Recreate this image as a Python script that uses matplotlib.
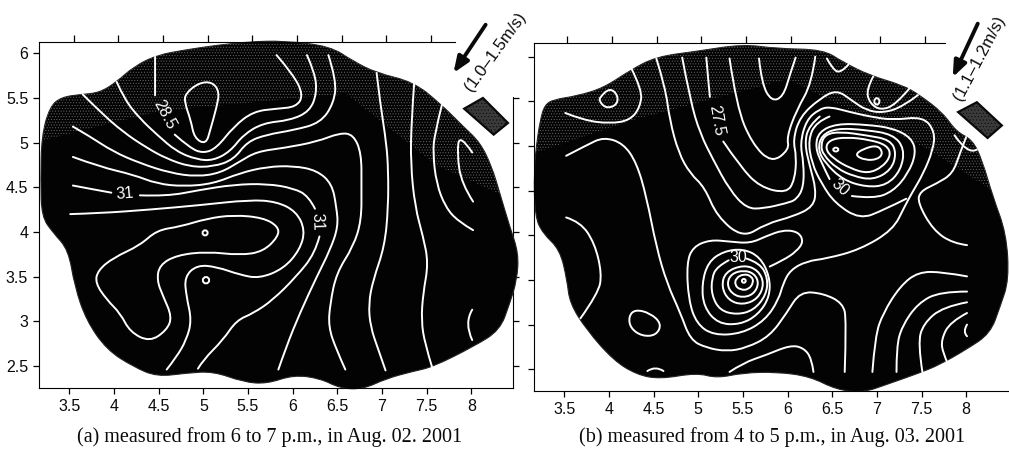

# -*- coding: utf-8 -*-
"""Two temperature contour maps of an island, with wind arrows."""

import numpy as np
import matplotlib
matplotlib.use("Agg")
import matplotlib.pyplot as plt
from matplotlib.path import Path
from matplotlib.patches import PathPatch, Polygon

plt.rcParams['font.family'] = ['Liberation Sans', 'DejaVu Sans']
plt.rcParams['hatch.linewidth'] = 0.4

x_ticks = [3.5, 4, 4.5, 5, 5.5, 6, 6.5, 7, 7.5, 8]
x_labels = ['3.5', '4', '4.5', '5', '5.5', '6', '6.5', '7', '7.5', '8']
y_ticks = [2.5, 3, 3.5, 4, 4.5, 5, 5.5, 6]
y_labels = ['2.5', '3', '3.5', '4', '4.5', '5', '5.5', '6']

# ---- panel (a) ----
a_island = [(3.28, 5.40), (3.41, 5.51), (3.64, 5.54), (3.84, 5.56), (4.03, 5.68), (4.22, 5.85), (4.48, 5.98),
            (4.81, 6.04), (5.15, 6.09), (5.52, 6.13), (5.90, 6.14), (6.42, 6.08), (6.68, 5.91), (6.94, 5.78),
            (7.35, 5.68), (7.65, 5.44), (7.91, 5.18), (8.10, 5.00), (8.23, 4.73), (8.32, 4.43), (8.43, 4.06),
            (8.53, 3.76), (8.51, 3.46), (8.43, 3.20), (8.32, 2.90), (8.03, 2.72), (7.57, 2.49), (7.35, 2.44),
            (7.05, 2.36), (6.79, 2.24), (6.53, 2.25), (6.31, 2.36), (6.01, 2.40), (5.71, 2.30), (5.45, 2.32),
            (5.11, 2.44), (4.81, 2.42), (4.48, 2.38), (4.22, 2.49), (3.92, 2.68), (3.69, 3.01), (3.56, 3.39),
            (3.49, 3.80), (3.32, 3.99), (3.19, 4.17), (3.18, 4.58), (3.19, 5.07)]
a_building = [(7.92, 5.38), (8.13, 5.50), (8.41, 5.22), (8.25, 5.09)]
a_stipple = [(3.1, 5.0), (4.5, 5.35), (6.6, 5.55), (7.6, 4.75), (8.6, 4.3), (8.6, 6.3), (3.1, 6.3)]

a_open = [
    [(4.46, 5.96), (4.46, 5.75), (4.46, 5.53)],
    [(4.68, 5.09), (4.85, 4.94), (5.00, 4.88), (5.15, 4.94), (5.34, 5.18), (5.56, 5.35), (5.82, 5.38), (6.04, 5.40),
     (6.12, 5.53), (6.01, 5.76), (5.82, 5.98)],
    [(4.03, 5.68), (4.12, 5.48), (4.29, 5.27), (4.48, 5.09), (4.70, 4.90), (4.93, 4.81), (5.11, 4.80), (5.30, 4.90),
     (5.45, 5.09), (5.67, 5.22), (5.97, 5.25), (6.19, 5.35), (6.27, 5.55), (6.25, 5.78), (6.16, 5.98)],
    [(3.65, 5.54), (3.84, 5.35), (4.10, 5.12), (4.37, 4.94), (4.59, 4.82), (4.85, 4.73), (5.11, 4.73), (5.34, 4.81),
     (5.49, 5.01), (5.71, 5.09), (6.01, 5.14), (6.31, 5.22), (6.46, 5.44), (6.49, 5.70), (6.40, 5.98)],
    [(3.54, 5.18), (3.73, 5.07), (3.99, 4.90), (4.29, 4.77), (4.63, 4.66), (4.93, 4.62), (5.19, 4.66), (5.41, 4.79),
     (5.60, 4.90), (5.90, 4.94), (6.27, 5.01), (6.53, 5.11), (6.68, 5.09), (6.77, 4.88), (6.77, 4.51), (6.77, 4.13),
     (6.68, 3.84), (6.49, 3.54), (6.42, 3.20), (6.40, 2.94), (6.49, 2.68), (6.59, 2.46)],
    [(3.54, 4.84), (3.84, 4.73), (4.22, 4.64), (4.48, 4.54), (4.78, 4.51), (5.11, 4.54), (5.41, 4.66), (5.71, 4.73),
     (6.01, 4.74), (6.27, 4.69), (6.44, 4.54), (6.49, 4.28), (6.51, 4.06), (6.42, 3.80), (6.27, 3.50), (6.08, 3.09),
     (5.93, 2.72), (5.84, 2.46)],
    [(3.54, 4.52), (3.75, 4.48), (3.97, 4.44)],
    [(4.29, 4.41), (4.59, 4.40), (4.96, 4.47), (5.34, 4.53), (5.71, 4.54), (6.01, 4.49), (6.18, 4.40), (6.25, 4.26)],
    [(6.30, 3.95), (6.25, 3.76), (6.04, 3.50), (5.78, 3.24), (5.56, 3.09), (5.37, 3.01), (5.22, 2.79), (5.00, 2.57),
     (4.94, 2.47)],
    [(3.51, 4.20), (3.84, 4.21), (4.40, 4.25), (4.96, 4.30), (5.52, 4.36), (5.82, 4.34), (6.04, 4.23), (6.14, 4.02),
     (6.08, 3.80), (5.90, 3.59), (5.63, 3.48), (5.41, 3.52), (5.15, 3.61), (4.93, 3.63), (4.79, 3.50), (4.81, 3.28),
     (4.87, 3.01), (4.81, 2.79), (4.70, 2.60), (4.59, 2.46)],
    [(6.94, 5.78), (6.98, 5.44), (7.05, 4.99), (7.07, 4.69), (7.07, 4.28), (7.03, 3.84), (6.90, 3.46), (6.85, 3.20),
     (6.87, 2.94), (6.96, 2.68), (7.04, 2.45)],
    [(7.36, 5.66), (7.33, 5.25), (7.32, 4.77), (7.37, 4.28), (7.46, 3.95), (7.52, 3.65), (7.46, 3.31), (7.44, 3.01),
     (7.48, 2.75), (7.56, 2.49)],
    [(7.67, 5.42), (7.59, 5.10), (7.57, 4.88), (7.61, 4.54), (7.71, 4.28), (7.85, 4.12), (8.02, 4.02)],
    [(8.01, 4.89), (7.87, 5.10), (7.84, 4.88), (7.89, 4.54), (8.02, 4.34)],
    [(8.01, 3.13), (7.92, 2.98), (8.01, 2.79)],
]
a_closed = [
    [(4.90, 5.05), (4.86, 5.25), (4.79, 5.45), (4.80, 5.55), (4.95, 5.67), (5.10, 5.68), (5.18, 5.57), (5.15, 5.40),
     (5.08, 5.15), (5.03, 4.98)],
    [(5.84, 4.06), (5.67, 4.16), (5.34, 4.19), (5.04, 4.15), (4.74, 4.06), (4.48, 4.02), (4.29, 3.85), (3.99, 3.71),
     (3.82, 3.57), (3.79, 3.43), (3.92, 3.24), (4.07, 3.09), (4.18, 2.88), (4.40, 2.77), (4.59, 2.90), (4.65, 3.05),
     (4.55, 3.28), (4.48, 3.46), (4.51, 3.63), (4.70, 3.74), (5.04, 3.78), (5.41, 3.74), (5.67, 3.78), (5.84, 3.95)],
    [(5.02, 4.03), (5.06, 3.99), (5.02, 3.95), (4.98, 3.99)],
    [(5.03, 3.51), (5.08, 3.46), (5.03, 3.41), (4.98, 3.46)],
]
a_labels = [('28.5', 4.57, 5.31, -62), ('31', 4.12, 4.43, 5), ('31', 6.27, 4.12, -88)]

# ---- panel (b) ----
b_island = [(3.23, 5.29), (3.28, 5.46), (3.38, 5.52), (3.64, 5.56), (3.94, 5.65), (4.24, 5.85), (4.53, 6.00),
            (4.98, 6.06), (5.50, 6.14), (5.88, 6.09), (6.40, 6.08), (6.62, 5.94), (6.92, 5.79), (7.29, 5.68),
            (7.48, 5.57), (7.74, 5.37), (7.89, 5.16), (8.07, 5.07), (8.18, 4.84), (8.30, 4.43), (8.45, 4.02),
            (8.48, 3.50), (8.38, 3.20), (8.27, 2.90), (8.00, 2.72), (7.70, 2.55), (7.48, 2.46), (7.11, 2.33),
            (6.85, 2.24), (6.55, 2.27), (6.25, 2.42), (5.88, 2.47), (5.50, 2.46), (5.21, 2.40), (4.98, 2.46),
            (4.57, 2.39), (4.31, 2.44), (4.05, 2.60), (3.75, 2.94), (3.56, 3.24), (3.53, 3.50), (3.45, 3.84),
            (3.26, 4.02), (3.17, 4.21), (3.16, 4.73), (3.19, 5.03)]
b_building = [(7.91, 5.38), (8.12, 5.49), (8.40, 5.23), (8.24, 5.09)]
b_stipple = [(3.1, 4.9), (4.3, 5.3), (6.0, 5.75), (7.6, 4.95), (8.6, 4.3), (8.6, 6.3), (3.1, 6.3)]

b_open = [
    [(3.51, 5.37), (3.71, 5.29), (4.01, 5.25), (4.24, 5.29), (4.35, 5.44), (4.37, 5.63), (4.25, 5.87)],
    [(3.52, 4.89), (3.75, 5.01), (3.94, 5.10), (4.16, 5.03), (4.31, 4.81), (4.42, 4.43), (4.53, 3.87), (4.65, 3.46),
     (4.80, 3.13), (4.91, 2.83), (5.09, 2.74), (5.32, 2.70), (5.54, 2.74), (5.80, 2.87), (5.99, 3.13), (6.14, 3.37),
     (6.40, 3.35), (6.62, 3.24), (6.66, 3.05), (6.64, 2.47)],
    [(3.52, 4.20), (3.68, 4.15), (3.84, 3.91), (3.92, 3.57), (3.88, 3.35), (3.68, 3.07)],
    [(4.43, 2.48), (4.52, 2.54), (4.61, 2.48)],
    [(5.35, 2.47), (5.50, 2.57), (5.76, 2.66), (6.03, 2.77), (6.18, 2.74), (6.27, 2.62), (6.29, 2.47)],
    [(6.31, 6.00), (6.27, 5.70), (6.10, 5.40), (5.99, 5.10), (6.02, 4.96), (5.82, 4.81), (5.60, 5.03), (5.43, 5.44),
     (5.35, 5.98)],
    [(5.68, 5.98), (5.71, 5.70), (5.82, 5.50), (5.95, 5.55), (6.03, 5.81), (6.09, 5.99)],
    [(5.09, 5.99), (5.11, 5.75), (5.13, 5.55)],
    [(5.28, 5.05), (5.47, 4.77), (5.69, 4.54), (5.99, 4.47), (6.08, 4.62), (6.10, 4.88), (6.06, 5.07), (6.14, 5.33),
     (6.36, 5.53), (6.55, 5.63), (6.72, 5.51), (6.88, 5.40), (7.07, 5.37), (7.29, 5.44), (7.46, 5.57)],
    [(4.82, 5.99), (4.91, 5.51), (5.02, 5.14), (5.17, 4.84), (5.35, 4.51), (5.54, 4.30), (5.73, 4.30), (5.99, 4.36),
     (6.10, 4.40), (6.18, 4.54), (6.18, 4.81), (6.14, 5.03), (6.21, 5.29), (6.35, 5.41), (6.47, 5.44), (6.70, 5.38),
     (6.92, 5.33), (7.18, 5.29), (7.52, 5.33), (7.65, 5.16), (7.63, 4.96), (7.52, 4.69), (7.39, 4.47), (7.31, 4.32),
     (7.18, 4.06), (6.81, 3.84), (6.44, 3.74), (6.21, 3.71), (6.03, 3.61), (5.95, 3.46), (5.90, 3.28), (5.75, 3.05),
     (5.49, 2.90), (5.17, 2.88), (4.98, 3.01), (4.89, 3.28), (4.87, 3.69), (4.94, 3.87), (5.13, 3.95), (5.35, 3.93),
     (5.58, 3.91), (5.76, 3.99), (5.95, 4.06), (6.12, 4.04), (6.18, 3.93), (6.10, 3.82), (5.95, 3.72), (5.80, 3.65)],
    [(4.53, 5.98), (4.63, 5.66), (4.68, 5.29), (4.78, 4.92), (4.91, 4.69), (5.07, 4.54), (5.21, 4.21), (5.50, 3.97),
     (5.76, 4.13), (6.06, 4.21), (6.29, 4.32), (6.32, 4.51), (6.25, 4.77), (6.19, 5.03), (6.24, 5.23), (6.36, 5.33)],
    [(7.33, 4.41), (7.07, 4.28), (6.81, 4.18), (6.53, 4.36), (6.38, 4.58), (6.27, 4.81), (6.23, 5.07), (6.32, 5.27),
     (6.47, 5.33)],
    [(6.47, 4.63), (6.38, 4.81), (6.31, 4.99), (6.35, 5.16), (6.55, 5.25), (6.88, 5.24), (7.18, 5.20), (7.39, 5.09),
     (7.44, 4.92), (7.35, 4.69), (7.18, 4.49), (6.96, 4.41), (6.72, 4.44)],
    [(5.54, 3.74), (5.69, 3.69), (5.78, 3.52), (5.76, 3.33), (5.62, 3.16), (5.43, 3.11), (5.24, 3.16), (5.15, 3.33),
     (5.15, 3.52), (5.21, 3.65), (5.34, 3.72)],
    [(6.96, 5.78), (6.88, 5.63), (6.92, 5.48), (7.04, 5.40), (7.21, 5.46), (7.37, 5.65)],
    [(6.44, 5.98), (6.50, 5.87), (6.59, 5.81), (6.68, 5.91)],
    [(7.87, 5.12), (8.02, 4.90), (8.12, 4.96)],
    [(8.00, 5.10), (7.93, 4.92), (7.85, 4.69), (7.67, 4.58), (7.48, 4.49), (7.46, 4.36), (7.63, 4.06), (7.85, 3.91),
     (8.01, 3.89)],
    [(8.01, 3.54), (7.74, 3.59), (7.46, 3.59), (7.26, 3.43), (7.07, 3.13), (6.98, 2.87), (6.95, 2.47)],
    [(8.01, 3.37), (7.71, 3.37), (7.46, 3.24), (7.28, 2.98), (7.22, 2.75), (7.22, 2.47)],
    [(8.01, 3.25), (7.74, 3.20), (7.52, 3.01), (7.46, 2.79), (7.51, 2.47)],
    [(8.01, 3.13), (7.82, 3.03), (7.72, 2.83), (7.74, 2.68), (7.80, 2.55)],
    [(8.01, 3.00), (7.96, 2.92), (8.01, 2.87)],
]
b_closed = [
    [(3.90, 5.55), (4.01, 5.65), (4.10, 5.57), (4.09, 5.46), (3.97, 5.42), (3.89, 5.50)],
    [(4.22, 3.09), (4.29, 3.17), (4.46, 3.13), (4.59, 3.01), (4.53, 2.88), (4.37, 2.87), (4.24, 2.96)],
    # rings of the upper peak
    [(6.34, 4.96), (6.38, 5.12), (6.55, 5.20), (6.88, 5.18), (7.18, 5.13), (7.31, 4.97), (7.27, 4.73), (7.11, 4.56),
     (6.88, 4.54), (6.62, 4.62), (6.42, 4.81)],
    [(6.37, 5.01), (6.42, 5.13), (6.59, 5.16), (6.88, 5.12), (7.15, 5.07), (7.22, 4.92), (7.16, 4.73), (6.96, 4.62),
     (6.74, 4.66), (6.55, 4.75), (6.40, 4.90)],
    [(6.42, 4.97), (6.47, 5.07), (6.66, 5.10), (6.92, 5.07), (7.11, 5.01), (7.16, 4.90), (7.07, 4.77), (6.90, 4.69),
     (6.70, 4.75), (6.51, 4.86)],
    [(6.75, 4.90), (6.85, 4.97), (7.01, 5.01), (7.07, 4.92), (7.01, 4.85), (6.87, 4.84)],
    [(6.54, 4.99), (6.58, 4.96), (6.54, 4.93), (6.50, 4.96)],
    [(7.00, 5.55), (7.04, 5.50), (7.00, 5.45), (6.96, 5.50)],
    # rings of the lower peak
    [(5.80, 3.54), (5.80, 3.31), (5.67, 3.11), (5.47, 3.00), (5.22, 3.01), (5.06, 3.20), (5.04, 3.46), (5.11, 3.70),
     (5.28, 3.82), (5.50, 3.85), (5.69, 3.76)],
    [(5.51, 3.67), (5.67, 3.61), (5.74, 3.46), (5.67, 3.29), (5.50, 3.22), (5.34, 3.27), (5.26, 3.42), (5.30, 3.59)],
    [(5.51, 3.61), (5.63, 3.57), (5.68, 3.46), (5.62, 3.34), (5.49, 3.30), (5.37, 3.35), (5.32, 3.46), (5.37, 3.57)],
    [(5.51, 3.57), (5.60, 3.54), (5.62, 3.47), (5.56, 3.39), (5.47, 3.39), (5.41, 3.44), (5.42, 3.52)],
    [(5.51, 3.52), (5.54, 3.49), (5.51, 3.46), (5.48, 3.49)],
]
b_labels = [('27.5', 5.20, 5.29, -80), ('30', 6.59, 4.53, -42), ('30', 5.45, 3.75, 0)]


def smooth_path(pts, closed=False):
    # quadratic curve through midpoints, the read points act as control points
    pts = np.array(pts)
    if closed:
        mids = (pts + np.roll(pts, -1, axis=0)) / 2
        verts = [mids[-1]]
        for p, m in zip(pts, mids):
            verts += [p, m]
    else:
        mids = (pts[:-1] + pts[1:]) / 2
        verts = [pts[0]]
        for p, m in zip(pts[1:-1], mids[1:]):
            verts += [p, m]
        verts[-1] = pts[-1]
    codes = [Path.MOVETO] + [Path.CURVE3] * (len(verts) - 1)
    return Path(verts, codes)


def draw_panel(ax, island, stipple, opened, closed, labels, building, wind, arrow_from, arrow_to, text_pos, text_rot,
               xlim, ylim, top_end, shift, right_axis):
    ax.set_xlim(*xlim)
    ax.set_ylim(*ylim)

    shape = PathPatch(smooth_path(island, True), facecolor='#030303', edgecolor='#222222', lw=0.8, clip_on=False)
    ax.add_patch(shape)
    # grey stipple over the upper, lighter part of the land
    dots = Polygon(stipple, closed=True, facecolor='none', edgecolor='#6a6a6a', hatch='......', lw=0)
    ax.add_patch(dots)
    dots.set_clip_path(shape)

    for line in opened:
        ax.add_patch(PathPatch(smooth_path(line), facecolor='none', edgecolor='white', lw=1.4, capstyle='round',
                               clip_on=False))
    for line in closed:
        ax.add_patch(PathPatch(smooth_path(line, True), facecolor='none', edgecolor='white', lw=1.4))
    for text, x, y, rot in labels:
        ax.text(x, y, text, color='white', fontsize=11.5, rotation=rot, ha='center', va='center')

    ax.add_patch(Polygon(building, closed=True, facecolor='#3a3a3a', edgecolor='#0a0a0a', lw=1.6, hatch='.....',
                         clip_on=False))
    ax.annotate('', xy=arrow_to, xytext=arrow_from, annotation_clip=False,
                arrowprops=dict(arrowstyle='-|>,head_width=0.38,head_length=0.95', color='#0a0a0a', lw=2.8,
                                shrinkA=0, shrinkB=0))
    ax.text(text_pos[0], text_pos[1], wind, fontsize=12, rotation=text_rot, ha='center', va='center',
            rotation_mode='anchor', color='#0a0a0a', clip_on=False)

    ax.set_xticks(x_ticks)
    ax.set_xticklabels(x_labels, fontsize=11.5, color='#0a0a0a')
    ax.set_yticks(y_ticks)
    ax.tick_params(length=4, width=0.9, pad=4, direction='out')
    ax.spines['top'].set_bounds(xlim[0], top_end)
    ax.spines['right'].set_visible(False)

    # the scan is slightly skewed, so the top ticks sit a little to the right
    top = ax.secondary_xaxis('top', functions=(lambda v: v - shift, lambda v: v + shift))
    top.set_xticks(x_ticks[:-1])
    top.tick_params(length=5, width=0.9, labeltop=False)
    top.spines['top'].set_visible(False)

    if right_axis:
        right = ax.secondary_yaxis('right', functions=(lambda v: v, lambda v: v))
        right.set_yticks(y_ticks[:-1])
        right.tick_params(length=4, width=0.9, labelright=False)
        right.spines['right'].set_bounds(ylim[0], 5.51)


W, H = 1009, 454
fig = plt.figure(figsize=(W / 100, H / 100), dpi=100)

ax_a = fig.add_axes([39.3 / W, 1 - 388.3 / H, (513.3 - 39.3) / W, (388.3 - 41.7) / H])
ax_b = fig.add_axes([534 / W, 1 - 390.7 / H, (1009 - 534) / W, (390.7 - 43.3) / H])

draw_panel(ax_a, a_island, a_stipple, a_open, a_closed, a_labels, a_building, '(1.0–1.5m/s)', (8.16, 6.32),
           (7.80, 5.78), (8.27, 6.02), 54, (3.164, 8.47), (2.25, 6.13), 7.82, 0.05, True)
ax_a.set_yticklabels(y_labels, fontsize=11.5, color='#0a0a0a')

draw_panel(ax_b, b_island, b_stipple, b_open, b_closed, b_labels, b_building, '(1.1–1.2m/s)', (8.13, 6.37),
           (7.85, 5.77), (8.15, 5.98), 62, (3.16, 8.48), (2.26, 6.15), 7.76, 0.034, False)
ax_b.set_yticklabels([])

fig.text(270 / W, 1 - 437 / H, '(a) measured from 6 to 7 p.m., in Aug. 02. 2001', family='Liberation Serif',
         fontsize=14.5, ha='center', va='center', color='#0a0a0a')
fig.text(772 / W, 1 - 437 / H, '(b) measured from 4 to 5 p.m., in Aug. 03. 2001', family='Liberation Serif',
         fontsize=14.5, ha='center', va='center', color='#0a0a0a')

fig.savefig('out.png', dpi=100)
